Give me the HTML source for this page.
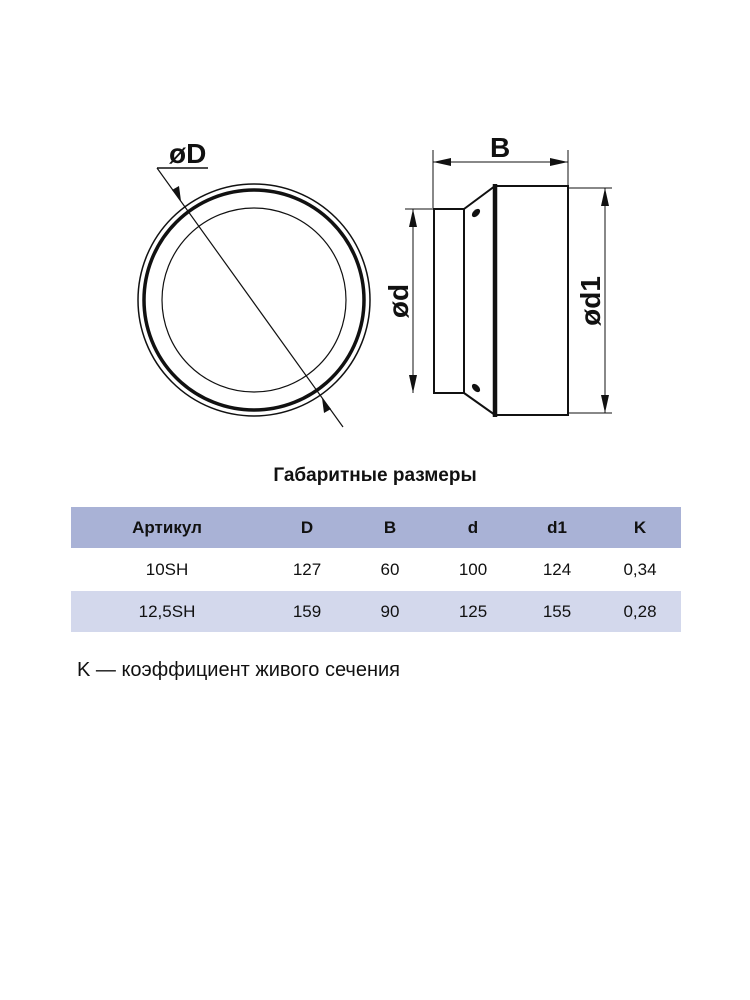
<!DOCTYPE html>
<html><head><meta charset="utf-8"><style>
body{margin:0;background:#fff;width:750px;height:1000px;position:relative;font-family:"Liberation Sans",sans-serif;color:#111}
svg{position:absolute;left:0;top:0}
.t{position:absolute;left:71px;width:610px;height:41px;display:flex;align-items:center;font-size:17px}
.t div{position:absolute;transform:translateX(-50%)}
</style></head><body>
<svg width="750" height="1000" viewBox="0 0 750 1000">
<g fill="none" stroke="#111">
<circle cx="254" cy="300" r="116" stroke-width="1.5"/>
<circle cx="254" cy="300" r="110" stroke-width="3.5"/>
<circle cx="254" cy="300" r="92" stroke-width="1.2"/>
<line x1="157" y1="168" x2="343" y2="427" stroke-width="1.2"/>
<line x1="157" y1="168" x2="208" y2="168" stroke-width="1.5"/>
<rect x="434" y="209" width="30" height="184" stroke-width="2"/>
<polyline points="464,209 495,186 568,186 568,415 495,415 464,393" stroke-width="2"/>
<line x1="495" y1="184" x2="495" y2="417" stroke-width="4.5"/>
<g stroke-width="1">
<line x1="433" y1="150" x2="433" y2="208"/><line x1="568" y1="150" x2="568" y2="186"/>
<line x1="433" y1="162" x2="568" y2="162"/>
<line x1="568" y1="188" x2="612" y2="188"/><line x1="568" y1="413" x2="612" y2="413"/>
<line x1="605" y1="188" x2="605" y2="413"/>
<line x1="405" y1="209" x2="434" y2="209"/>
<line x1="413" y1="209" x2="413" y2="393"/>
</g>
</g>
<g fill="#111">
<polygon points="433,162 451,158 451,166"/><polygon points="568,162 550,158 550,166"/>
<polygon points="605,188 601,206 609,206"/><polygon points="605,413 601,395 609,395"/>
<polygon points="413,209 409,227 417,227"/><polygon points="413,393 409,375 417,375"/>
<polygon points="181,201 172,190 179,186"/><polygon points="322,398 331,409 324,413"/>
<ellipse cx="476" cy="213" rx="3" ry="5" transform="rotate(45 476 213)"/>
<ellipse cx="476" cy="388" rx="3" ry="5" transform="rotate(-45 476 388)"/>
</g>
<g font-family="Liberation Sans, sans-serif" font-weight="bold" font-size="28" fill="#111">
<text x="169" y="163">øD</text>
<text x="490" y="157">B</text>
<text transform="translate(408 301) rotate(-90)" text-anchor="middle">ød</text>
<text transform="translate(600 301) rotate(-90)" text-anchor="middle">ød1</text>
</g>
<rect x="71" y="507" width="610" height="41" fill="#a9b2d6"/>
<rect x="71" y="591" width="610" height="41" fill="#d3d8ec"/>
</svg>
<div style="position:absolute;top:465px;left:0;width:750px;text-align:center;font-size:19px;font-weight:bold">Габаритные размеры</div>
<div class="t" style="top:507px;font-weight:bold"><div style="left:96px">Артикул</div><div style="left:236px">D</div><div style="left:319px">B</div><div style="left:402px">d</div><div style="left:486px">d1</div><div style="left:569px">K</div></div>
<div class="t" style="top:549px"><div style="left:96px">10SH</div><div style="left:236px">127</div><div style="left:319px">60</div><div style="left:402px">100</div><div style="left:486px">124</div><div style="left:569px">0,34</div></div>
<div class="t" style="top:591px"><div style="left:96px">12,5SH</div><div style="left:236px">159</div><div style="left:319px">90</div><div style="left:402px">125</div><div style="left:486px">155</div><div style="left:569px">0,28</div></div>
<div style="position:absolute;top:659px;left:77px;font-size:20px">K — коэффициент живого сечения</div>
</body></html>
